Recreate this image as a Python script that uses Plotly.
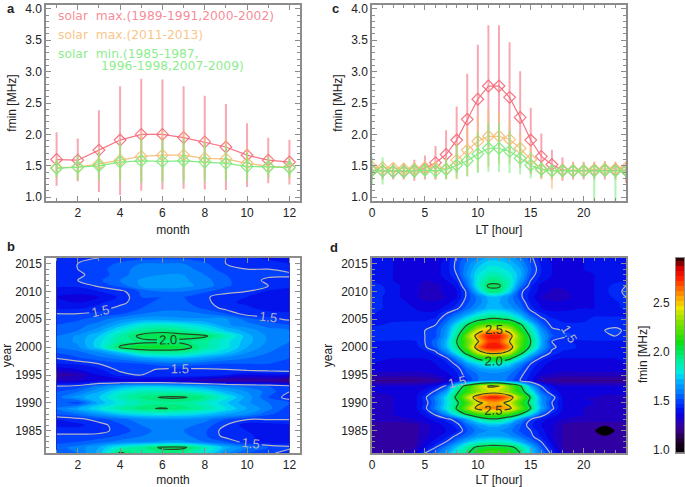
import plotly.graph_objects as go

W, H = 685, 487

months = [1, 2, 3, 4, 5, 6, 7, 8, 9, 10, 11, 12]
hours = list(range(25))

# panel a, monthly means with upper/lower whisker ends
red_m = [1.60, 1.59, 1.75, 1.91, 2.00, 2.00, 1.95, 1.88, 1.80, 1.67, 1.59, 1.56]
red_m_hi = [2.02, 1.92, 2.37, 2.75, 2.87, 2.86, 2.75, 2.60, 2.47, 2.16, 1.93, 1.90]
red_m_lo = [1.20, 1.27, 1.10, 1.05, 1.12, 1.14, 1.15, 1.14, 1.13, 1.18, 1.24, 1.22]
org_m = [1.47, 1.48, 1.53, 1.59, 1.65, 1.67, 1.67, 1.62, 1.61, 1.54, 1.49, 1.48]
org_m_hi = [1.60, 1.62, 1.75, 1.90, 2.03, 2.05, 2.05, 1.95, 1.92, 1.77, 1.65, 1.62]
org_m_lo = [1.33, 1.30, 1.30, 1.28, 1.27, 1.28, 1.30, 1.30, 1.30, 1.32, 1.33, 1.32]
grn_m = [1.46, 1.48, 1.50, 1.56, 1.58, 1.57, 1.58, 1.56, 1.54, 1.49, 1.48, 1.47]
grn_m_hi = [1.58, 1.66, 1.70, 1.85, 1.92, 1.90, 1.92, 1.85, 1.80, 1.70, 1.62, 1.60]
grn_m_lo = [1.33, 1.30, 1.30, 1.28, 1.25, 1.25, 1.25, 1.27, 1.28, 1.28, 1.33, 1.33]

# panel c, hourly means with upper/lower whisker ends
red_h = [1.43, 1.42, 1.41, 1.41, 1.42, 1.46, 1.55, 1.68, 1.91, 2.24, 2.56, 2.77, 2.77,
         2.59, 2.27, 1.91, 1.65, 1.52, 1.43, 1.42, 1.42, 1.43, 1.43, 1.43, 1.43]
red_h_hi = [1.50, 1.50, 1.52, 1.52, 1.58, 1.65, 1.80, 2.05, 2.43, 2.95, 3.41, 3.72, 3.72,
            3.45, 2.99, 2.41, 2.00, 1.74, 1.62, 1.55, 1.55, 1.55, 1.56, 1.55, 1.53]
red_h_lo = [1.30, 1.30, 1.30, 1.30, 1.28, 1.30, 1.30, 1.32, 1.40, 1.55, 1.72, 1.82, 1.82,
            1.72, 1.55, 1.40, 1.32, 1.30, 1.28, 1.30, 1.30, 1.30, 1.30, 1.30, 1.25]
org_h = [1.48, 1.47, 1.46, 1.45, 1.45, 1.47, 1.47, 1.45, 1.59, 1.75, 1.89, 1.97, 1.97,
         1.92, 1.78, 1.60, 1.45, 1.42, 1.43, 1.43, 1.43, 1.44, 1.45, 1.45, 1.47]
org_h_hi = [1.55, 1.55, 1.53, 1.53, 1.52, 1.55, 1.55, 1.62, 1.85, 2.10, 2.28, 2.38, 2.35,
            2.20, 2.00, 1.80, 1.55, 1.50, 1.52, 1.52, 1.52, 1.52, 1.52, 1.52, 1.55]
org_h_lo = [1.38, 1.38, 1.38, 1.37, 1.35, 1.35, 1.30, 1.30, 1.30, 1.35, 1.42, 1.50, 1.55,
            1.55, 1.48, 1.38, 1.30, 1.15, 1.30, 1.33, 1.34, 1.35, 1.35, 1.35, 1.35]
grn_h = [1.42, 1.42, 1.41, 1.41, 1.42, 1.43, 1.42, 1.44, 1.51, 1.58, 1.69, 1.78, 1.78,
         1.73, 1.62, 1.51, 1.44, 1.42, 1.42, 1.42, 1.42, 1.42, 1.43, 1.42, 1.42]
grn_h_hi = [1.62, 1.62, 1.50, 1.50, 1.52, 1.52, 1.52, 1.60, 1.82, 1.80, 2.03, 2.17, 2.17,
            2.05, 1.85, 1.70, 1.55, 1.50, 1.50, 1.50, 1.50, 1.50, 1.52, 1.50, 1.50]
grn_h_lo = [1.22, 1.22, 1.32, 1.32, 1.32, 1.34, 1.32, 1.30, 1.32, 1.35, 1.40, 1.42, 1.42,
            1.40, 1.38, 1.32, 1.33, 1.34, 1.34, 1.34, 1.34, 0.90, 1.34, 0.90, 1.34]

years = list(range(2016, 1980, -1))

# panel b, one row per year from 2016 down to 1981, one value per month
fmin_month = [
    [1.45, 1.46, 1.50, 1.52, 1.53, 1.54, 1.54, 1.52, 1.50, 1.46, 1.44, 1.42],
    [1.47, 1.50, 1.52, 1.56, 1.60, 1.60, 1.60, 1.56, 1.50, 1.49, 1.47, 1.45],
    [1.50, 1.50, 1.53, 1.58, 1.62, 1.64, 1.62, 1.58, 1.52, 1.50, 1.50, 1.47],
    [1.47, 1.49, 1.52, 1.58, 1.63, 1.65, 1.65, 1.60, 1.55, 1.52, 1.51, 1.52],
    [1.50, 1.50, 1.54, 1.60, 1.66, 1.68, 1.66, 1.62, 1.56, 1.52, 1.49, 1.47],
    [1.46, 1.46, 1.51, 1.57, 1.66, 1.69, 1.67, 1.63, 1.56, 1.52, 1.50, 1.47],
    [1.42, 1.42, 1.45, 1.48, 1.56, 1.60, 1.60, 1.56, 1.52, 1.50, 1.44, 1.42],
    [1.40, 1.38, 1.40, 1.46, 1.55, 1.55, 1.55, 1.51, 1.47, 1.45, 1.43, 1.40],
    [1.42, 1.40, 1.44, 1.48, 1.54, 1.56, 1.56, 1.52, 1.46, 1.44, 1.42, 1.40],
    [1.44, 1.44, 1.47, 1.52, 1.55, 1.58, 1.58, 1.54, 1.48, 1.46, 1.43, 1.42],
    [1.50, 1.50, 1.52, 1.54, 1.60, 1.62, 1.62, 1.60, 1.55, 1.47, 1.47, 1.46],
    [1.52, 1.54, 1.58, 1.64, 1.68, 1.68, 1.66, 1.66, 1.66, 1.58, 1.52, 1.49],
    [1.55, 1.58, 1.62, 1.72, 1.82, 1.85, 1.82, 1.76, 1.66, 1.62, 1.58, 1.55],
    [1.58, 1.60, 1.68, 1.82, 1.93, 1.97, 1.93, 1.85, 1.75, 1.68, 1.62, 1.60],
    [1.60, 1.66, 1.75, 1.90, 2.03, 2.05, 2.04, 2.02, 1.88, 1.72, 1.64, 1.60],
    [1.62, 1.66, 1.78, 1.92, 1.97, 1.98, 1.97, 1.92, 1.82, 1.72, 1.64, 1.60],
    [1.60, 1.64, 1.78, 2.02, 2.08, 2.08, 2.05, 1.92, 1.82, 1.70, 1.62, 1.58],
    [1.55, 1.58, 1.64, 1.75, 1.90, 1.93, 1.92, 1.82, 1.75, 1.65, 1.60, 1.58],
    [1.50, 1.54, 1.58, 1.62, 1.68, 1.72, 1.72, 1.68, 1.63, 1.60, 1.58, 1.55],
    [1.45, 1.46, 1.50, 1.53, 1.55, 1.58, 1.58, 1.56, 1.55, 1.55, 1.55, 1.55],
    [1.37, 1.40, 1.44, 1.52, 1.52, 1.49, 1.49, 1.49, 1.50, 1.52, 1.53, 1.54],
    [1.27, 1.30, 1.40, 1.47, 1.50, 1.50, 1.50, 1.50, 1.45, 1.40, 1.42, 1.42],
    [1.35, 1.35, 1.37, 1.37, 1.35, 1.35, 1.32, 1.28, 1.25, 1.25, 1.25, 1.22],
    [1.50, 1.52, 1.62, 1.70, 1.75, 1.75, 1.72, 1.68, 1.62, 1.58, 1.55, 1.52],
    [1.55, 1.60, 1.70, 1.82, 1.88, 1.88, 1.88, 1.82, 1.72, 1.65, 1.58, 1.50],
    [1.58, 1.68, 1.75, 1.88, 1.96, 2.01, 2.01, 1.95, 1.82, 1.68, 1.55, 1.47],
    [1.58, 1.52, 1.72, 1.82, 1.90, 1.93, 1.93, 1.86, 1.76, 1.66, 1.60, 1.55],
    [1.60, 1.70, 1.80, 1.90, 1.98, 2.01, 1.97, 1.90, 1.80, 1.70, 1.62, 1.52],
    [1.55, 1.60, 1.68, 1.76, 1.80, 1.82, 1.80, 1.76, 1.70, 1.65, 1.56, 1.52],
    [1.45, 1.47, 1.53, 1.58, 1.63, 1.65, 1.65, 1.62, 1.55, 1.50, 1.50, 1.50],
    [1.44, 1.44, 1.47, 1.54, 1.60, 1.63, 1.62, 1.58, 1.50, 1.42, 1.42, 1.44],
    [1.47, 1.47, 1.48, 1.52, 1.58, 1.62, 1.60, 1.56, 1.47, 1.45, 1.44, 1.45],
    [1.52, 1.52, 1.52, 1.56, 1.60, 1.62, 1.62, 1.56, 1.48, 1.46, 1.43, 1.44],
    [1.53, 1.55, 1.58, 1.62, 1.64, 1.66, 1.66, 1.60, 1.55, 1.47, 1.42, 1.42],
    [1.58, 1.62, 1.70, 1.85, 1.93, 2.02, 2.02, 1.88, 1.72, 1.62, 1.55, 1.52],
    [1.56, 1.60, 1.72, 2.02, 1.92, 1.95, 1.93, 1.82, 1.65, 1.55, 1.52, 1.46],
]

# panel d, same years, sampled at these local times
lt_hours = [0, 2, 4, 5, 6, 7, 8, 9, 10, 11, 12, 13, 14, 15, 16, 17, 18, 20, 21, 22, 23, 24]
fmin_lt = [
    [1.42, 1.40, 1.38, 1.37, 1.37, 1.40, 1.51, 1.58, 1.65, 1.72, 1.72, 1.68, 1.62, 1.52, 1.42, 1.38, 1.38, 1.40, 1.42, 1.46, 1.42, 1.43],
    [1.42, 1.40, 1.38, 1.37, 1.38, 1.42, 1.52, 1.62, 1.72, 1.78, 1.78, 1.74, 1.66, 1.54, 1.44, 1.40, 1.38, 1.40, 1.41, 1.42, 1.42, 1.43],
    [1.42, 1.40, 1.38, 1.37, 1.38, 1.42, 1.52, 1.64, 1.76, 1.82, 1.82, 1.78, 1.70, 1.56, 1.45, 1.40, 1.38, 1.40, 1.41, 1.42, 1.42, 1.43],
    [1.42, 1.40, 1.38, 1.37, 1.38, 1.42, 1.50, 1.66, 1.80, 1.88, 1.88, 1.82, 1.72, 1.54, 1.44, 1.40, 1.38, 1.38, 1.40, 1.42, 1.42, 1.43],
    [1.44, 1.40, 1.36, 1.35, 1.36, 1.40, 1.46, 1.62, 1.82, 1.95, 1.95, 1.86, 1.68, 1.50, 1.42, 1.38, 1.36, 1.38, 1.40, 1.42, 1.44, 1.44],
    [1.48, 1.42, 1.36, 1.34, 1.34, 1.36, 1.42, 1.58, 1.84, 2.02, 2.02, 1.86, 1.62, 1.46, 1.38, 1.36, 1.36, 1.38, 1.40, 1.44, 1.46, 1.50],
    [1.50, 1.42, 1.36, 1.34, 1.34, 1.36, 1.40, 1.52, 1.74, 1.95, 1.95, 1.78, 1.52, 1.44, 1.38, 1.34, 1.34, 1.38, 1.40, 1.44, 1.47, 1.52],
    [1.48, 1.42, 1.36, 1.33, 1.33, 1.35, 1.40, 1.52, 1.62, 1.72, 1.72, 1.64, 1.52, 1.42, 1.35, 1.33, 1.33, 1.38, 1.40, 1.43, 1.46, 1.50],
    [1.46, 1.44, 1.38, 1.36, 1.36, 1.38, 1.44, 1.54, 1.62, 1.70, 1.70, 1.64, 1.56, 1.44, 1.38, 1.36, 1.36, 1.38, 1.40, 1.42, 1.44, 1.47],
    [1.46, 1.44, 1.40, 1.38, 1.38, 1.42, 1.48, 1.58, 1.66, 1.72, 1.72, 1.68, 1.60, 1.47, 1.40, 1.38, 1.38, 1.40, 1.40, 1.42, 1.44, 1.46],
    [1.45, 1.44, 1.42, 1.41, 1.42, 1.50, 1.58, 1.68, 1.78, 1.85, 1.85, 1.80, 1.70, 1.54, 1.46, 1.42, 1.42, 1.42, 1.44, 1.44, 1.44, 1.44],
    [1.44, 1.44, 1.44, 1.44, 1.46, 1.56, 1.68, 1.82, 1.95, 2.02, 2.02, 1.98, 1.82, 1.64, 1.52, 1.46, 1.44, 1.44, 1.46, 1.46, 1.46, 1.46],
    [1.44, 1.46, 1.47, 1.47, 1.50, 1.62, 1.80, 2.00, 2.18, 2.25, 2.25, 2.20, 2.04, 1.80, 1.58, 1.48, 1.46, 1.46, 1.50, 1.48, 1.46, 1.46],
    [1.47, 1.48, 1.49, 1.50, 1.54, 1.66, 1.88, 2.12, 2.42, 2.55, 2.55, 2.44, 2.14, 1.88, 1.66, 1.52, 1.50, 1.50, 1.46, 1.50, 1.54, 1.47],
    [1.50, 1.50, 1.50, 1.50, 1.54, 1.68, 1.94, 2.30, 2.58, 2.78, 2.78, 2.58, 2.26, 1.96, 1.70, 1.56, 1.52, 1.48, 1.50, 1.50, 1.50, 1.50],
    [1.45, 1.44, 1.44, 1.50, 1.58, 1.72, 2.00, 2.24, 2.48, 2.72, 2.72, 2.50, 2.24, 2.00, 1.72, 1.50, 1.46, 1.44, 1.44, 1.44, 1.44, 1.44],
    [1.43, 1.42, 1.42, 1.49, 1.56, 1.72, 1.94, 2.26, 2.60, 2.80, 2.80, 2.62, 2.22, 1.96, 1.70, 1.52, 1.47, 1.44, 1.44, 1.43, 1.43, 1.43],
    [1.42, 1.42, 1.42, 1.42, 1.48, 1.62, 1.82, 2.08, 2.40, 2.55, 2.55, 2.42, 2.08, 1.80, 1.60, 1.48, 1.44, 1.42, 1.42, 1.42, 1.42, 1.42],
    [1.42, 1.40, 1.40, 1.40, 1.42, 1.48, 1.64, 1.84, 2.04, 2.15, 2.15, 2.05, 1.82, 1.62, 1.48, 1.42, 1.40, 1.40, 1.40, 1.40, 1.40, 1.42],
    [1.40, 1.38, 1.38, 1.38, 1.40, 1.44, 1.52, 1.68, 1.78, 1.85, 1.85, 1.78, 1.64, 1.50, 1.42, 1.38, 1.38, 1.38, 1.38, 1.38, 1.38, 1.40],
    [1.38, 1.37, 1.37, 1.37, 1.38, 1.42, 1.46, 1.58, 1.66, 1.70, 1.70, 1.66, 1.56, 1.46, 1.40, 1.37, 1.37, 1.37, 1.37, 1.37, 1.37, 1.38],
    [1.32, 1.32, 1.32, 1.33, 1.35, 1.38, 1.44, 1.54, 1.60, 1.62, 1.62, 1.60, 1.52, 1.44, 1.36, 1.34, 1.32, 1.32, 1.32, 1.32, 1.32, 1.32],
    [1.24, 1.24, 1.24, 1.25, 1.27, 1.34, 1.42, 1.50, 1.60, 1.64, 1.64, 1.58, 1.50, 1.42, 1.30, 1.26, 1.24, 1.24, 1.24, 1.24, 1.24, 1.24],
    [1.36, 1.36, 1.36, 1.38, 1.42, 1.52, 1.84, 2.10, 2.34, 2.52, 2.50, 2.28, 2.04, 1.70, 1.50, 1.40, 1.36, 1.36, 1.36, 1.36, 1.36, 1.36],
    [1.35, 1.36, 1.38, 1.42, 1.52, 1.68, 1.96, 2.16, 2.32, 2.40, 2.40, 2.30, 2.10, 1.84, 1.58, 1.44, 1.38, 1.36, 1.36, 1.36, 1.36, 1.36],
    [1.34, 1.35, 1.38, 1.48, 1.62, 1.78, 2.04, 2.36, 2.62, 2.76, 2.76, 2.60, 2.30, 1.98, 1.66, 1.54, 1.40, 1.35, 1.35, 1.34, 1.34, 1.34],
    [1.34, 1.35, 1.38, 1.46, 1.60, 1.78, 1.96, 2.20, 2.46, 2.55, 2.55, 2.44, 2.18, 1.94, 1.68, 1.50, 1.40, 1.36, 1.35, 1.34, 1.34, 1.34],
    [1.34, 1.35, 1.38, 1.48, 1.62, 1.80, 2.02, 2.32, 2.56, 2.62, 2.62, 2.54, 2.28, 2.00, 1.70, 1.52, 1.40, 1.35, 1.35, 1.34, 1.34, 1.34],
    [1.34, 1.35, 1.37, 1.42, 1.52, 1.66, 1.86, 2.04, 2.18, 2.25, 2.25, 2.18, 2.02, 1.80, 1.56, 1.44, 1.38, 1.35, 1.34, 1.34, 1.34, 1.34],
    [1.33, 1.33, 1.35, 1.38, 1.42, 1.46, 1.54, 1.70, 1.86, 1.95, 1.95, 1.84, 1.66, 1.50, 1.42, 1.38, 1.35, 1.33, 1.33, 1.33, 1.33, 1.33],
    [1.26, 1.26, 1.28, 1.33, 1.37, 1.42, 1.47, 1.58, 1.67, 1.72, 1.72, 1.66, 1.56, 1.46, 1.40, 1.36, 1.30, 1.26, 1.26, 1.26, 1.26, 1.26],
    [1.26, 1.26, 1.28, 1.33, 1.37, 1.40, 1.44, 1.55, 1.62, 1.65, 1.65, 1.62, 1.54, 1.50, 1.42, 1.36, 1.30, 1.26, 1.26, 0.00, 1.26, 1.26],
    [1.26, 1.26, 1.28, 1.34, 1.38, 1.44, 1.52, 1.60, 1.67, 1.70, 1.70, 1.66, 1.60, 1.52, 1.44, 1.36, 1.30, 1.26, 1.26, 1.26, 1.26, 1.26],
    [1.26, 1.26, 1.28, 1.36, 1.42, 1.50, 1.62, 1.74, 1.82, 1.85, 1.85, 1.82, 1.72, 1.60, 1.50, 1.38, 1.30, 1.26, 1.26, 1.26, 1.26, 1.26],
    [1.26, 1.26, 1.30, 1.40, 1.50, 1.62, 1.76, 1.92, 2.04, 2.08, 2.08, 2.05, 1.94, 1.74, 1.56, 1.42, 1.30, 1.26, 1.26, 1.26, 1.26, 1.26],
    [1.26, 1.26, 1.34, 1.50, 1.58, 1.68, 1.84, 1.98, 2.12, 2.20, 2.20, 2.15, 2.00, 1.78, 1.60, 1.48, 1.32, 1.26, 1.26, 1.26, 1.26, 1.26],
]

# colour bar steps and labels
cbar_levels = [1.00, 1.05, 1.10, 1.15, 1.20, 1.25, 1.30, 1.35, 1.40, 1.45,
               1.50, 1.55, 1.60, 1.65, 1.70, 1.75, 1.80, 1.85, 1.90, 1.95,
               2.00, 2.05, 2.10, 2.15, 2.20, 2.25, 2.30, 2.35, 2.40, 2.45,
               2.50, 2.55, 2.60, 2.65, 2.70, 2.75, 2.80, 2.85, 2.90, 2.95]
cbar_ticks = [1.0, 1.5, 2.0, 2.5]

RED = "rgba(244,110,125,{})"
ORANGE = "rgba(247,190,120,{})"
GREEN = "rgba(125,235,125,{})"
TEXT = "#222222"
FRAME = "#8c8c8c"
FONT = "Liberation Sans"
ZMIN, ZMAX = 0.97, 2.95

idl_scale = [
    [0.00, "#000000"], [0.05, "#180020"], [0.126, "#3a0090"], [0.167, "#2000c0"],
    [0.197, "#0a00e0"], [0.227, "#0018f0"], [0.268, "#0040ff"], [0.318, "#0080ff"],
    [0.369, "#00b0ff"], [0.41, "#00e8e8"], [0.47, "#00f0a0"], [0.52, "#00e860"],
    [0.57, "#10e010"], [0.67, "#80e000"], [0.747, "#f0e800"], [0.82, "#ff9000"],
    [0.90, "#ff2000"], [0.95, "#d80000"], [1.00, "#300000"],
]


def px_domain(lo, hi, size):
    return [lo / size, hi / size]


def add_series(fig, x, y, hi, lo, color, xref, yref):
    fig.add_trace(go.Scatter(
        x=x, y=y, mode="lines+markers", xaxis=xref, yaxis=yref, showlegend=False,
        line=dict(color=color.format(0.95), width=1.2),
        marker=dict(symbol="diamond-open", size=9, color=color.format(0.95),
                    line=dict(width=1.2)),
        error_y=dict(type="data", symmetric=False,
                     array=[h - m for h, m in zip(hi, y)],
                     arrayminus=[m - l for m, l in zip(y, lo)],
                     color=color.format(0.6), thickness=2, width=1),
    ))


fig = go.Figure()

for vals, hi, lo, col in [(red_m, red_m_hi, red_m_lo, RED),
                          (org_m, org_m_hi, org_m_lo, ORANGE),
                          (grn_m, grn_m_hi, grn_m_lo, GREEN)]:
    add_series(fig, months, vals, hi, lo, col, "x", "y")

for vals, hi, lo, col in [(red_h, red_h_hi, red_h_lo, RED),
                          (org_h, org_h_hi, org_h_lo, ORANGE),
                          (grn_h, grn_h_hi, grn_h_lo, GREEN)]:
    add_series(fig, hours, vals, hi, lo, col, "x3", "y3")


def add_map(fig, x, z, xref, yref):
    fig.add_trace(go.Contour(
        x=x, y=years, z=z, xaxis=xref, yaxis=yref, zmin=ZMIN, zmax=ZMAX,
        colorscale=idl_scale, autocontour=False, line=dict(width=0),
        contours=dict(coloring="fill", start=1.0, end=2.95, size=0.05, showlines=False),
        showscale=False, hoverinfo="skip",
    ))
    # 1.5 isoline in grey, higher ones in dark green
    fig.add_trace(go.Contour(
        x=x, y=years, z=z, xaxis=xref, yaxis=yref, showscale=False, hoverinfo="skip",
        autocontour=False,
        contours=dict(coloring="none", start=1.5, end=1.5, size=0.5, showlabels=True,
                      labelformat=".1f",
                      labelfont=dict(family=FONT, size=13, color="#b4b4c4")),
        line=dict(color="#b4b4c4", width=1.2),
    ))
    fig.add_trace(go.Contour(
        x=x, y=years, z=z, xaxis=xref, yaxis=yref, showscale=False, hoverinfo="skip",
        autocontour=False,
        contours=dict(coloring="none", start=2.0, end=2.5, size=0.5, showlabels=True,
                      labelformat=".1f",
                      labelfont=dict(family=FONT, size=13, color="#203a20")),
        line=dict(color="#26482a", width=1.2),
    ))


add_map(fig, months, fmin_month, "x2", "y2")
add_map(fig, lt_hours, fmin_lt, "x4", "y4")

# colour bar drawn as a one-column heatmap so its labels can sit on the left
fig.add_trace(go.Heatmap(
    x=[0], y=cbar_levels, z=[[v] for v in cbar_levels], xaxis="x5", yaxis="y5",
    zmin=ZMIN, zmax=ZMAX, colorscale=idl_scale, showscale=False, hoverinfo="skip",
))


def axis_style(**kw):
    style = dict(
        showgrid=False, zeroline=False, showline=True, linecolor=FRAME, linewidth=1.5,
        mirror="allticks", ticks="inside", ticklen=5, tickcolor=FRAME, tickwidth=1,
        automargin=False,
        tickfont=dict(family=FONT, size=12, color=TEXT),
        title_font=dict(family=FONT, size=12, color=TEXT), title_standoff=6,
    )
    style.update(kw)
    return style


x_left = px_domain(46, 300, W)
x_right = px_domain(372, 626, W)
y_top = px_domain(H - 201, H - 5, H)
y_bot = px_domain(H - 453, H - 258, H)

line_y = dict(range=[0.94, 4.06], dtick=0.5, tick0=1, tickformat=".1f", title_text="fmin [MHz]",
              minor=dict(ticks="inside", ticklen=3, tickcolor=FRAME, dtick=0.1))
year_y = dict(range=[1981, 2016], dtick=5, tick0=1985, title_text="year",
              minor=dict(ticks="inside", ticklen=3, tickcolor=FRAME, dtick=1))
month_x = dict(range=[0.5, 12.5], dtick=2, tick0=2, title_text="month",
               minor=dict(ticks="inside", ticklen=3, tickcolor=FRAME, dtick=1))
lt_x = dict(range=[0, 24], dtick=5, tick0=0, title_text="LT [hour]",
            minor=dict(ticks="inside", ticklen=3, tickcolor=FRAME, dtick=1))

fig.update_layout(
    width=W, height=H, margin=dict(l=0, r=0, t=0, b=0), autosize=False,
    paper_bgcolor="white", plot_bgcolor="white", showlegend=False,
    font=dict(family=FONT, color=TEXT),
    xaxis=axis_style(domain=x_left, anchor="y", **month_x),
    yaxis=axis_style(domain=y_top, anchor="x", **line_y),
    xaxis2=axis_style(domain=x_left, anchor="y2", **month_x),
    yaxis2=axis_style(domain=y_bot, anchor="x2", **year_y),
    xaxis3=axis_style(domain=x_right, anchor="y3", **lt_x),
    yaxis3=axis_style(domain=y_top, anchor="x3", **line_y),
    xaxis4=axis_style(domain=x_right, anchor="y4", **lt_x),
    yaxis4=axis_style(domain=y_bot, anchor="x4", **year_y),
    xaxis5=dict(domain=px_domain(676, 684, W), anchor="y5", showticklabels=False, ticks="",
                showgrid=False, zeroline=False, showline=True, linecolor=FRAME, mirror=True,
                automargin=False),
    yaxis5=dict(domain=y_bot, anchor="x5", range=[0.97, 2.96], tickmode="array",
                tickvals=cbar_ticks, ticktext=["%.1f" % t for t in cbar_ticks], ticks="",
                showgrid=False, zeroline=False, showline=True, linecolor=FRAME, mirror=True,
                tickfont=dict(family=FONT, size=12, color=TEXT), ticklabelstandoff=3,
                automargin=False),
)


def note(text, x, y, size=11, color=TEXT, bold=False, angle=0, align="left", family=FONT):
    fig.add_annotation(
        text="<b>%s</b>" % text if bold else text, x=x / W, y=1 - y / H, xref="paper", yref="paper",
        showarrow=False, xanchor=align, yanchor="middle", textangle=angle, align="left",
        font=dict(family=family, size=size, color=color),
    )


note("a", 5, 9, size=13, bold=True)
note("b", 5, 246, size=13, bold=True)
note("c", 330, 9, size=13, bold=True)
note("d", 328, 247, size=13, bold=True)

LEGEND_FONT = "DejaVu Sans"
note("solar  max.(1989-1991,2000-2002)", 56, 16, size=12.3, color=RED.format(0.8), family=LEGEND_FONT)
note("solar  max.(2011-2013)", 56, 35, size=12.3, color=ORANGE.format(0.9), family=LEGEND_FONT)
note("solar  min.(1985-1987,", 56, 54, size=12.3, color=GREEN.format(0.9), family=LEGEND_FONT)
note("1996-1998,2007-2009)", 99, 66, size=12.3, color=GREEN.format(0.9), family=LEGEND_FONT)

note("fmin [MHz]", 643, 355, size=12, angle=-90, align="center")

fig.write_html("out.html", config=dict(displayModeBar=False),
               post_script="document.body.style.margin='0';")
